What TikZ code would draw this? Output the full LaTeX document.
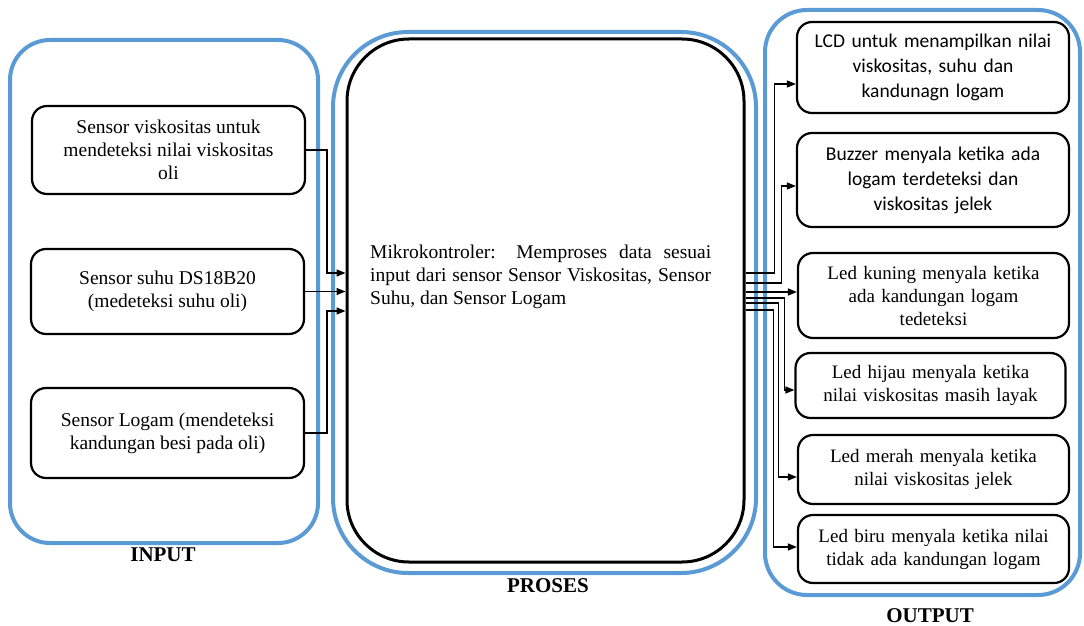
\documentclass[tikz,border=0pt]{standalone}
\usepackage{fontspec}
\setmainfont{Liberation Serif}
\newfontfamily\calfont{Carlito}
\newfontfamily\serfont{Liberation Serif}
\usetikzlibrary{arrows.meta}
\definecolor{obl}{RGB}{91,155,213}
\newcommand\nohyph{\hyphenpenalty=10000\relax\exhyphenpenalty=10000\relax}
\tikzset{
  container/.style={draw=obl, line width=4pt, inner sep=0pt},
  ibox/.style={draw, line width=2.2pt, rounded corners=15pt, inner sep=2pt, align=center, font=\serfont\fontsize{19.5}{23}\selectfont},
  obox/.style={draw, line width=2.2pt, rounded corners=15pt, inner sep=2pt, align=center, text width=266pt, font=\serfont\fontsize{19}{23}\selectfont},
  sbox/.style={draw, line width=2.2pt, rounded corners=15pt, inner sep=2pt, align=center, text width=266pt, font=\calfont\fontsize{19.5}{25}\selectfont},
  arr/.style={line width=1.3pt, -{Triangle[length=9pt,width=7pt]}},
  ttl/.style={font=\serfont\bfseries\fontsize{21}{24}\selectfont}
}
\begin{document}
\begin{tikzpicture}[x=1pt,y=-1pt]
\useasboundingbox (0,0) rectangle (1084,626);
% containers
\node[container, rounded corners=40pt, minimum width=308pt, minimum height=503pt] (inp) at (164,291.5) {};
\node[container, rounded corners=75pt, minimum width=423pt, minimum height=541pt] (pro) at (544.5,302.5) {};
\node[container, rounded corners=42pt, minimum width=315pt, minimum height=585pt] (out) at (922.5,302.5) {};
% process box
\node[draw, line width=3pt, rounded corners=62pt, minimum width=397pt, minimum height=523pt, inner sep=0pt] (mcu) at (545.5,300.5) {};
\node[anchor=north west, inner sep=0pt, text width=341pt, align=justify, font=\serfont\fontsize{19.5}{23}\selectfont\nohyph] (mtext) at (370,245) {Mikrokontroler: Memproses data sesuai\linebreak input dari sensor Sensor Viskositas, Sensor\linebreak Suhu, dan Sensor Logam};
% input boxes
\node[ibox, minimum width=273pt, minimum height=88pt] (i1) at (168.5,150) {Sensor viskositas untuk\\mendeteksi nilai viskositas\\oli};
\node[ibox, minimum width=273pt, minimum height=85pt] (i2) at (167.5,291.5) {Sensor suhu DS18B20\\(medeteksi suhu oli)};
\node[ibox, minimum width=273pt, minimum height=90pt] (i3) at (167.5,433) {Sensor Logam (mendeteksi\\kandungan besi pada oli)};
% output boxes
\node[sbox, minimum width=272pt, minimum height=91pt] (o1) at (933,67.5) {LCD untuk menampilkan nilai\\viskositas, suhu dan\\kandunagn logam};
\node[sbox, minimum width=272pt, minimum height=94pt] (o2) at (933,180) {Buzzer menyala ketika ada\\logam terdeteksi dan\\viskositas jelek};
\node[obox, minimum width=271pt, minimum height=85pt] (o3) at (933.5,295.5) {Led kuning menyala ketika\\ada kandungan logam\\tedeteksi};
\node[obox, minimum width=269pt, minimum height=65pt] (o4) at (930.5,385.5) {Led hijau menyala ketika\\nilai viskositas masih layak};
\node[obox, minimum width=271pt, minimum height=69pt] (o5) at (933.5,469.5) {Led merah menyala ketika\\nilai viskositas jelek};
\node[obox, minimum width=271pt, minimum height=68pt] (o6) at (933.5,549) {Led biru menyala ketika nilai\\tidak ada kandungan logam};
% titles
\node[ttl] (tin) at (163,555) {INPUT};
\node[ttl] (tpro) at (548,586) {PROSES};
\node[ttl] (tout) at (930,616) {OUTPUT};
% input connectors
\draw[arr] (i1.east) -- ++(21,0) |- ([yshift=27.5pt]mcu.west);
\draw[arr] (i2.east) -- (mcu.west |- i2.east);
\draw[arr] (i3.east) -- ++(22,0) |- ([yshift=-10.5pt]mcu.west);
% output connectors
\draw[arr] ([yshift=27.5pt]mcu.east) -- ++(29,0) |- ([yshift=-16.5pt]o1.west);
\draw[arr] ([yshift=17.5pt]mcu.east) -- ++(36,0) |- ([yshift=-6pt]o2.west);
\draw[arr] ([yshift=8.5pt]mcu.east) -- ([yshift=3.5pt]o3.west);
\draw[arr] ([yshift=2.5pt]mcu.east) -- ++(39,0) |- ([yshift=-4.5pt]o4.west);
\draw[arr] ([yshift=-2.5pt]mcu.east) -- ++(33,0) |- ([yshift=-7.5pt]o5.west);
\draw[arr] ([yshift=-9.5pt]mcu.east) -- ++(28,0) |- ([yshift=2pt]o6.west);
\end{tikzpicture}
\end{document}
